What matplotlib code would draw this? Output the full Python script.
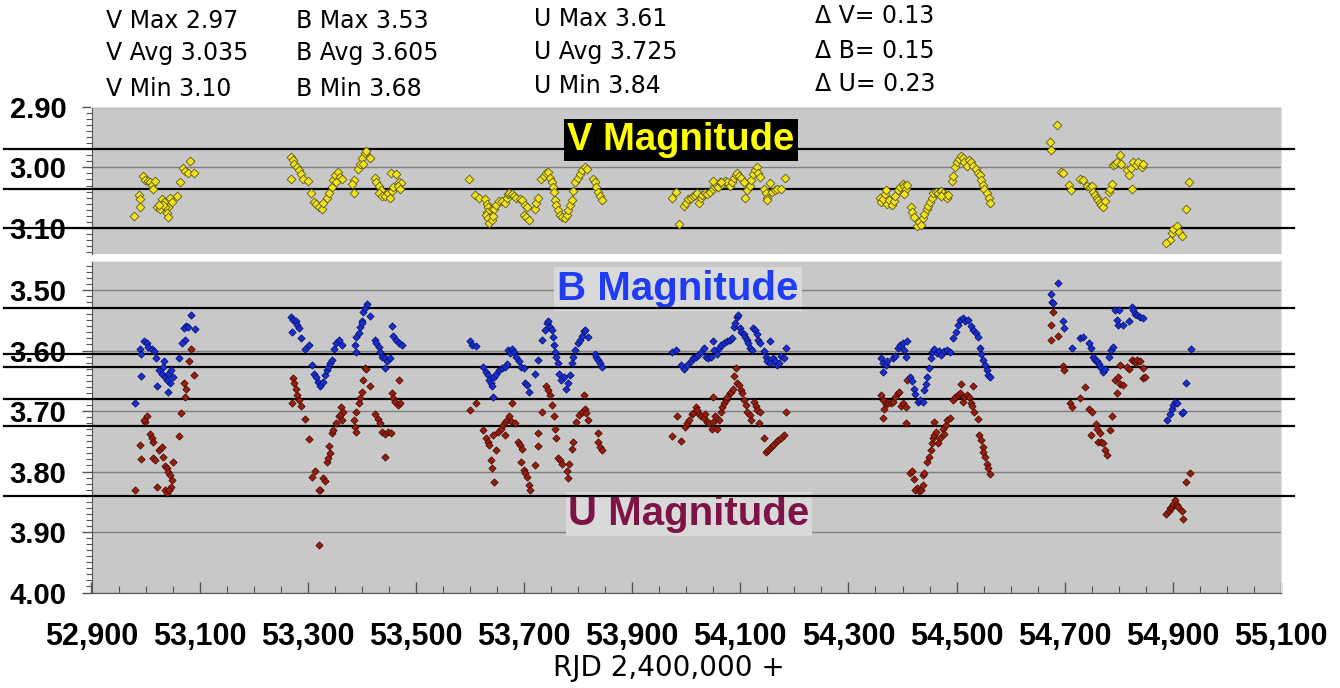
import matplotlib
matplotlib.use('Agg')
import matplotlib.pyplot as plt
from matplotlib.ticker import MultipleLocator, FuncFormatter
import matplotlib.transforms as mtransforms

# ---------------- data (RJD, magnitude) ----------------
v_points = [
    (53082, 2.989), (53070, 3.002), (53073, 3.006), (53078, 3.009), (53090, 3.009), (53064, 3.025),
    (52996, 3.014), (52999, 3.021), (53005, 3.023), (53008, 3.025), (53011, 3.029), (53014, 3.035),
    (53018, 3.023), (53059, 3.047), (52987, 3.046), (52990, 3.053), (52989, 3.066), (52979, 3.080),
    (53030, 3.053), (53035, 3.057), (53045, 3.051), (53048, 3.057), (53042, 3.065), (53036, 3.065),
    (53021, 3.066), (53027, 3.069), (53039, 3.076), (53042, 3.082), (53033, 3.062), (53024, 3.062),
    (53269, 2.983), (53272, 2.988), (53275, 2.994), (53280, 2.999), (53284, 3.005), (53288, 3.011),
    (53292, 3.020), (53300, 3.022), (53269, 3.019), (53306, 3.043), (53312, 3.057), (53316, 3.061),
    (53321, 3.065), (53326, 3.069), (53329, 3.059), (53335, 3.051), (53340, 3.043), (53344, 3.033),
    (53347, 3.021), (53350, 3.013), (53355, 3.007), (53360, 3.016), (53364, 3.020), (53353, 3.024),
    (53386, 3.021), (53382, 3.028), (53386, 3.042), (53392, 3.003), (53397, 2.994), (53401, 2.985),
    (53405, 2.977), (53407, 2.973), (53415, 2.984), (53403, 2.995), (53424, 3.018), (53427, 3.025),
    (53432, 3.031), (53435, 3.037), (53431, 3.043), (53438, 3.048), (53443, 3.047), (53448, 3.042),
    (53452, 3.050), (53455, 3.039), (53458, 3.032), (53454, 3.009), (53464, 3.011), (53469, 3.024),
    (53472, 3.026), (53466, 3.031), (53471, 3.035),
    (53598, 3.020), (53609, 3.046), (53617, 3.050), (53627, 3.053), (53631, 3.061), (53634, 3.066),
    (53639, 3.070), (53631, 3.073), (53629, 3.079), (53634, 3.084), (53635, 3.091), (53641, 3.087),
    (53643, 3.080), (53645, 3.068), (53649, 3.062), (53654, 3.055), (53659, 3.055), (53664, 3.058),
    (53668, 3.051), (53670, 3.044), (53672, 3.042), (53677, 3.044), (53682, 3.048), (53686, 3.050),
    (53693, 3.053), (53696, 3.054), (53701, 3.062), (53705, 3.065), (53699, 3.079), (53703, 3.082),
    (53709, 3.086), (53720, 3.069), (53723, 3.059), (53726, 3.051), (53731, 3.020), (53736, 3.014),
    (53740, 3.009), (53744, 3.007), (53748, 3.018), (53751, 3.024), (53754, 3.032), (53756, 3.040),
    (53757, 3.054), (53760, 3.062), (53763, 3.071), (53767, 3.079), (53771, 3.081), (53776, 3.084),
    (53779, 3.079), (53782, 3.070), (53785, 3.062), (53788, 3.054), (53791, 3.039), (53794, 3.024),
    (53799, 3.018), (53803, 3.011), (53808, 3.005), (53812, 3.000), (53816, 3.003), (53828, 3.020),
    (53831, 3.025), (53834, 3.032), (53837, 3.040), (53841, 3.047), (53844, 3.054),
    (53987, 3.093), (53973, 3.050), (53981, 3.040), (53996, 3.064), (53999, 3.058), (54004, 3.053),
    (54008, 3.050), (54012, 3.047), (54016, 3.046), (54020, 3.043), (54024, 3.058), (54027, 3.051),
    (54030, 3.046), (54035, 3.042), (54039, 3.044), (54044, 3.040), (54049, 3.036), (54051, 3.031),
    (54055, 3.029), (54059, 3.033), (54062, 3.025), (54067, 3.028), (54072, 3.022), (54076, 3.025),
    (54080, 3.031), (54084, 3.024), (54088, 3.018), (54092, 3.013), (54094, 3.009), (54098, 3.014),
    (54102, 3.018), (54106, 3.024), (54109, 3.050), (54113, 3.037), (54117, 3.031), (54119, 3.021),
    (54123, 3.011), (54127, 3.005), (54130, 3.000), (54133, 3.009), (54136, 3.016), (54049, 3.022),
    (54064, 3.024), (54143, 3.035), (54147, 3.042), (54150, 3.050), (54154, 3.026), (54158, 3.040),
    (54164, 3.037), (54168, 3.036), (54176, 3.036), (54183, 3.018), (54149, 3.054),
    (54358, 3.050), (54361, 3.057), (54364, 3.053), (54367, 3.044), (54369, 3.037), (54372, 3.061),
    (54375, 3.054), (54380, 3.062), (54385, 3.055), (54387, 3.047), (54391, 3.037), (54395, 3.033),
    (54400, 3.028), (54403, 3.031), (54406, 3.036), (54408, 3.029), (54403, 3.044), (54416, 3.065),
    (54418, 3.073), (54422, 3.082), (54426, 3.097), (54430, 3.090), (54435, 3.095), (54437, 3.084),
    (54440, 3.077), (54445, 3.069), (54448, 3.064), (54451, 3.057), (54454, 3.050), (54457, 3.043),
    (54461, 3.040), (54466, 3.042), (54471, 3.039), (54475, 3.042), (54478, 3.047), (54482, 3.051),
    (54485, 3.046), (54492, 3.022), (54494, 3.014), (54497, 2.999), (54500, 2.992), (54504, 2.987),
    (54508, 2.982), (54511, 2.984), (54514, 2.991), (54519, 2.998), (54523, 2.988), (54527, 2.992),
    (54531, 2.998), (54535, 3.003), (54539, 3.009), (54543, 3.013), (54546, 3.021), (54549, 3.029),
    (54551, 3.036), (54556, 3.042), (54560, 3.050), (54562, 3.059), (54471, 3.047),
    (54686, 2.930), (54673, 2.958), (54674, 2.971), (54694, 3.007), (54697, 3.010), (54708, 3.029),
    (54711, 3.037), (54728, 3.020), (54734, 3.021), (54742, 3.031), (54747, 3.033), (54750, 3.031),
    (54753, 3.040), (54756, 3.046), (54759, 3.050), (54762, 3.054), (54765, 3.058), (54768, 3.062),
    (54771, 3.065), (54774, 3.055), (54781, 3.040), (54784, 3.036), (54787, 3.028), (54790, 2.996),
    (54793, 2.994), (54797, 2.992), (54802, 2.980), (54805, 2.994), (54815, 3.005), (54818, 3.013),
    (54822, 3.002), (54827, 2.992), (54832, 2.996), (54836, 2.992), (54842, 2.999), (54845, 2.995),
    (54824, 3.035), (54895, 3.120), (54888, 3.124), (54898, 3.108), (54901, 3.102), (54907, 3.097),
    (54912, 3.106), (54916, 3.113), (54924, 3.068), (54930, 3.025),
]

b_points = [
    (53084, 3.542), (53075, 3.560), (53072, 3.563), (53091, 3.564), (53078, 3.561), (53073, 3.583),
    (53067, 3.587), (52998, 3.584), (53002, 3.588), (53005, 3.594), (53011, 3.598), (53016, 3.600),
    (52990, 3.598), (52992, 3.606), (53019, 3.613), (53035, 3.618), (53061, 3.613), (52991, 3.642),
    (53024, 3.633), (53030, 3.639), (53036, 3.643), (53042, 3.638), (53047, 3.632), (53050, 3.643),
    (53045, 3.654), (53022, 3.658), (53041, 3.668), (53033, 3.627), (52980, 3.686), (53039, 3.648),
    (53269, 3.544), (53273, 3.550), (53278, 3.552), (53281, 3.558), (53284, 3.563), (53270, 3.569),
    (53288, 3.579), (53294, 3.598), (53302, 3.591), (53308, 3.624), (53312, 3.638), (53315, 3.643),
    (53318, 3.652), (53323, 3.659), (53329, 3.652), (53332, 3.641), (53335, 3.633), (53338, 3.627),
    (53341, 3.621), (53345, 3.615), (53349, 3.598), (53353, 3.588), (53358, 3.583), (53363, 3.591),
    (53387, 3.591), (53389, 3.602), (53390, 3.577), (53394, 3.571), (53397, 3.561), (53400, 3.551),
    (53403, 3.536), (53406, 3.530), (53409, 3.523), (53415, 3.543), (53401, 3.555), (53424, 3.583),
    (53427, 3.588), (53431, 3.594), (53434, 3.602), (53438, 3.610), (53443, 3.613), (53446, 3.618),
    (53452, 3.613), (53443, 3.629), (53455, 3.560), (53458, 3.576), (53464, 3.583), (53469, 3.588),
    (53474, 3.591),
    (53600, 3.585), (53604, 3.591), (53611, 3.593), (53625, 3.627), (53629, 3.635), (53633, 3.641),
    (53635, 3.648), (53639, 3.653), (53641, 3.659), (53645, 3.643), (53649, 3.638), (53654, 3.632),
    (53659, 3.629), (53664, 3.627), (53668, 3.622), (53671, 3.599), (53674, 3.604), (53678, 3.598),
    (53682, 3.602), (53686, 3.610), (53691, 3.618), (53694, 3.627), (53699, 3.629), (53702, 3.654),
    (53705, 3.657), (53709, 3.668), (53720, 3.639), (53725, 3.616), (53734, 3.582), (53739, 3.566),
    (53742, 3.555), (53745, 3.552), (53748, 3.561), (53751, 3.566), (53754, 3.578), (53756, 3.591),
    (53757, 3.602), (53760, 3.610), (53763, 3.620), (53765, 3.638), (53768, 3.649), (53773, 3.643),
    (53777, 3.663), (53782, 3.654), (53785, 3.641), (53788, 3.621), (53791, 3.610), (53795, 3.599),
    (53799, 3.588), (53803, 3.583), (53807, 3.576), (53810, 3.567), (53813, 3.566), (53818, 3.577),
    (53831, 3.605), (53834, 3.610), (53837, 3.616), (53841, 3.621), (53844, 3.627), (53643, 3.676),
    (53973, 3.602), (53981, 3.599), (53990, 3.624), (53996, 3.631), (54001, 3.624), (54008, 3.618),
    (54013, 3.613), (54018, 3.610), (54022, 3.607), (54027, 3.602), (54032, 3.596), (54036, 3.610),
    (54041, 3.613), (54045, 3.610), (54049, 3.585), (54051, 3.599), (54056, 3.605), (54061, 3.595),
    (54065, 3.591), (54070, 3.588), (54075, 3.585), (54080, 3.582), (54084, 3.580), (54088, 3.561),
    (54090, 3.555), (54093, 3.544), (54096, 3.541), (54099, 3.563), (54102, 3.569), (54106, 3.573),
    (54109, 3.577), (54112, 3.583), (54115, 3.588), (54118, 3.596), (54121, 3.599), (54124, 3.562),
    (54127, 3.566), (54130, 3.573), (54133, 3.583), (54136, 3.588), (54143, 3.600), (54147, 3.610),
    (54150, 3.617), (54155, 3.621), (54160, 3.613), (54164, 3.618), (54168, 3.624), (54172, 3.621),
    (54176, 3.609), (54181, 3.613), (54184, 3.596), (54155, 3.585),
    (54361, 3.613), (54364, 3.621), (54363, 3.635), (54369, 3.624), (54372, 3.617), (54383, 3.613),
    (54387, 3.609), (54391, 3.596), (54395, 3.591), (54400, 3.587), (54403, 3.599), (54408, 3.584),
    (54406, 3.610), (54414, 3.643), (54418, 3.650), (54422, 3.663), (54424, 3.672), (54428, 3.685),
    (54432, 3.681), (54437, 3.685), (54440, 3.665), (54443, 3.655), (54446, 3.643), (54449, 3.629),
    (54453, 3.613), (54455, 3.602), (54459, 3.598), (54463, 3.604), (54467, 3.600), (54472, 3.607),
    (54477, 3.600), (54483, 3.599), (54488, 3.602), (54494, 3.580), (54498, 3.569), (54502, 3.558),
    (54506, 3.550), (54511, 3.547), (54515, 3.552), (54522, 3.550), (54527, 3.560), (54531, 3.566),
    (54535, 3.571), (54540, 3.577), (54543, 3.596), (54546, 3.605), (54549, 3.615), (54552, 3.624),
    (54556, 3.632), (54559, 3.641), (54562, 3.643),
    (54688, 3.489), (54674, 3.507), (54676, 3.519), (54678, 3.522), (54696, 3.551), (54699, 3.562),
    (54713, 3.595), (54728, 3.580), (54734, 3.577), (54745, 3.588), (54748, 3.595), (54752, 3.610),
    (54756, 3.616), (54759, 3.618), (54764, 3.622), (54768, 3.629), (54771, 3.635), (54774, 3.631),
    (54782, 3.610), (54785, 3.599), (54790, 3.594), (54793, 3.533), (54801, 3.533), (54797, 3.550),
    (54799, 3.558), (54808, 3.558), (54818, 3.552), (54824, 3.528), (54827, 3.533), (54830, 3.539),
    (54834, 3.541), (54839, 3.544), (54845, 3.547), (54890, 3.715), (54895, 3.705), (54898, 3.697),
    (54901, 3.690), (54904, 3.685), (54907, 3.687), (54916, 3.704), (54919, 3.701), (54925, 3.654),
    (54933, 3.598),
]

u_points = [
    (53084, 3.598), (53080, 3.617), (53090, 3.641), (53072, 3.654), (53075, 3.663), (53073, 3.677),
    (53066, 3.704), (53061, 3.741), (53002, 3.709), (52999, 3.718), (52998, 3.715), (53008, 3.738),
    (53011, 3.745), (53014, 3.751), (52990, 3.756), (52992, 3.780), (53013, 3.778), (53017, 3.781),
    (53024, 3.764), (53030, 3.759), (53033, 3.776), (53036, 3.791), (53039, 3.795), (53042, 3.800),
    (53045, 3.806), (53048, 3.814), (53047, 3.825), (53051, 3.784), (52980, 3.830), (53022, 3.826),
    (53036, 3.831), (53039, 3.835), (53043, 3.831),
    (53273, 3.646), (53275, 3.654), (53278, 3.663), (53281, 3.674), (53283, 3.682), (53271, 3.687),
    (53288, 3.692), (53294, 3.714), (53302, 3.747), (53308, 3.809), (53313, 3.799), (53329, 3.811),
    (53331, 3.815), (53323, 3.830), (53320, 3.830), (53335, 3.785), (53338, 3.778), (53341, 3.770),
    (53339, 3.758), (53345, 3.736), (53347, 3.731), (53352, 3.719), (53357, 3.709), (53362, 3.693),
    (53366, 3.701), (53360, 3.707), (53363, 3.715), (53386, 3.715), (53387, 3.726), (53389, 3.734),
    (53390, 3.701), (53394, 3.687), (53397, 3.679), (53401, 3.668), (53403, 3.648), (53405, 3.629),
    (53407, 3.631), (53415, 3.659), (53424, 3.705), (53429, 3.714), (53434, 3.720), (53437, 3.734),
    (53443, 3.738), (53449, 3.734), (53454, 3.736), (53443, 3.776), (53455, 3.671), (53458, 3.679),
    (53461, 3.685), (53466, 3.690), (53471, 3.687), (53468, 3.648), (53321, 3.922),
    (53600, 3.698), (53611, 3.687), (53625, 3.731), (53629, 3.745), (53633, 3.751), (53635, 3.756),
    (53639, 3.781), (53640, 3.795), (53645, 3.818), (53649, 3.764), (53643, 3.740), (53652, 3.734),
    (53657, 3.729), (53662, 3.723), (53665, 3.718), (53668, 3.715), (53672, 3.708), (53676, 3.716),
    (53678, 3.687), (53683, 3.720), (53664, 3.740), (53689, 3.751), (53692, 3.756), (53696, 3.763),
    (53694, 3.784), (53699, 3.798), (53702, 3.803), (53705, 3.809), (53709, 3.822), (53711, 3.831),
    (53720, 3.789), (53725, 3.758), (53726, 3.737), (53734, 3.701), (53740, 3.659), (53745, 3.665),
    (53748, 3.674), (53752, 3.690), (53756, 3.708), (53758, 3.729), (53760, 3.745), (53763, 3.778),
    (53767, 3.781), (53770, 3.787), (53779, 3.799), (53781, 3.811), (53783, 3.787), (53788, 3.762),
    (53791, 3.751), (53797, 3.718), (53802, 3.707), (53807, 3.701), (53812, 3.696), (53814, 3.704),
    (53819, 3.715), (53810, 3.674), (53836, 3.737), (53837, 3.751), (53841, 3.759), (53844, 3.764),
    (53973, 3.742), (53990, 3.749), (53983, 3.709), (53998, 3.726), (54001, 3.720), (54006, 3.715),
    (54010, 3.705), (54013, 3.703), (54018, 3.693), (54020, 3.698), (54024, 3.705), (54028, 3.708),
    (54032, 3.712), (54035, 3.705), (54038, 3.718), (54043, 3.720), (54047, 3.729), (54050, 3.718),
    (54053, 3.708), (54057, 3.729), (54061, 3.715), (54064, 3.701), (54067, 3.693), (54070, 3.687),
    (54073, 3.682), (54076, 3.676), (54080, 3.671), (54082, 3.668), (54086, 3.663), (54088, 3.642),
    (54092, 3.629), (54094, 3.654), (54098, 3.657), (54101, 3.665), (54104, 3.670), (54107, 3.682),
    (54110, 3.690), (54113, 3.701), (54117, 3.707), (54119, 3.715), (54050, 3.676), (54125, 3.685),
    (54129, 3.692), (54131, 3.698), (54136, 3.701), (54135, 3.720), (54144, 3.744), (54147, 3.767),
    (54152, 3.764), (54156, 3.760), (54161, 3.756), (54166, 3.751), (54170, 3.748), (54175, 3.745),
    (54180, 3.740), (54184, 3.701),
    (54361, 3.674), (54364, 3.682), (54366, 3.697), (54363, 3.712), (54369, 3.688), (54374, 3.686),
    (54379, 3.687), (54383, 3.685), (54387, 3.677), (54391, 3.670), (54393, 3.668), (54397, 3.692),
    (54401, 3.687), (54406, 3.693), (54408, 3.648), (54406, 3.719), (54414, 3.803), (54418, 3.799),
    (54422, 3.813), (54426, 3.828), (54423, 3.831), (54430, 3.832), (54435, 3.831), (54438, 3.822),
    (54437, 3.806), (54440, 3.803), (54446, 3.785), (54449, 3.776), (54453, 3.764), (54455, 3.753),
    (54457, 3.745), (54459, 3.740), (54461, 3.734), (54465, 3.753), (54469, 3.745), (54474, 3.729),
    (54477, 3.738), (54480, 3.723), (54483, 3.715), (54488, 3.712), (54459, 3.718), (54494, 3.682),
    (54497, 3.677), (54502, 3.674), (54506, 3.671), (54508, 3.655), (54511, 3.685), (54514, 3.676),
    (54519, 3.674), (54523, 3.677), (54527, 3.687), (54529, 3.692), (54533, 3.701), (54531, 3.659),
    (54539, 3.714), (54541, 3.740), (54545, 3.748), (54548, 3.759), (54549, 3.767), (54552, 3.776),
    (54556, 3.787), (54559, 3.795), (54562, 3.804),
    (54678, 3.537), (54674, 3.558), (54674, 3.582), (54688, 3.576), (54696, 3.626), (54699, 3.633),
    (54737, 3.661), (54729, 3.679), (54710, 3.686), (54713, 3.693), (54745, 3.697), (54750, 3.701),
    (54758, 3.722), (54759, 3.729), (54765, 3.737), (54748, 3.740), (54762, 3.751), (54768, 3.751),
    (54771, 3.753), (54774, 3.764), (54778, 3.773), (54784, 3.731), (54787, 3.708), (54793, 3.649),
    (54799, 3.643), (54797, 3.670), (54802, 3.655), (54808, 3.657), (54803, 3.624), (54815, 3.627),
    (54819, 3.631), (54824, 3.615), (54828, 3.617), (54832, 3.621), (54834, 3.615), (54839, 3.617),
    (54845, 3.629), (54844, 3.646), (54848, 3.643), (54888, 3.870), (54892, 3.866), (54895, 3.861),
    (54898, 3.858), (54901, 3.853), (54904, 3.847), (54907, 3.855), (54910, 3.858), (54916, 3.866),
    (54918, 3.879), (54925, 3.818), (54932, 3.802),
]

v_levels = [2.97, 3.035, 3.10]
bu_levels = [3.53, 3.605, 3.628, 3.68, 3.725, 3.84]

header_v = ["V Max 2.97", "V Avg 3.035", "V Min 3.10"]
header_b = ["B Max 3.53", "B Avg 3.605", "B Min 3.68"]
header_u = ["U Max 3.61", "U Avg 3.725", "U Min 3.84"]
header_d = ["\u0394 V= 0.13", "\u0394 B= 0.15", "\u0394 U= 0.23"]

x_range = (52900, 55100)

# ---------------- figure ----------------
W, H = 1340, 688
fig = plt.figure(figsize=(W / 100, H / 100), dpi=100)
fig.patch.set_facecolor('white')


def fx(px):
    return px / W


def fy(py):
    return 1 - py / H


L, R = 91.5, 1281
ax_v = fig.add_axes([fx(L), fy(254), fx(R) - fx(L), fy(106.5) - fy(254)])
ax_b = fig.add_axes([fx(L), fy(592.5), fx(R) - fx(L), fy(261) - fy(592.5)])

TICKFONT = 'Liberation Sans'
panel_gray = '#c8c8c8'

for ax in (ax_v, ax_b):
    ax.set_facecolor(panel_gray)
    ax.set_xlim(*x_range)
    ax.set_axisbelow(True)
    ax.yaxis.set_major_locator(MultipleLocator(0.1))
    ax.yaxis.set_minor_locator(MultipleLocator(0.01))
    ax.yaxis.set_major_formatter(FuncFormatter(lambda v, p: f"{v:.2f}"))
    ax.yaxis.grid(True, which='major', color='#808080', lw=1.0)
    ax.tick_params(axis='y', which='major', direction='out', length=7, width=1,
                   color='#555555', labelsize=21, pad=11)
    ax.tick_params(axis='y', which='minor', direction='out', length=4, width=0.8,
                   color='#555555')
    ax.spines['left'].set_color('#555555')
    ax.spines['right'].set_color('#e2e2e2')
    ax.spines['top'].set_color('#e2e2e2')

ax_v.set_ylim(3.1427, 2.90)
ax_b.set_ylim(4.00, 3.452)

ax_v.tick_params(axis='x', which='both', bottom=False, labelbottom=False)
ax_v.spines['bottom'].set_visible(False)

ax_b.xaxis.set_major_locator(MultipleLocator(200, offset=100))
ax_b.xaxis.set_minor_locator(MultipleLocator(50))
ax_b.xaxis.set_major_formatter(FuncFormatter(lambda v, p: f"{v:,.0f}"))
ax_b.tick_params(axis='x', which='major', direction='in', length=8, width=1,
                 color='#555555', labelsize=22, pad=21)
ax_b.tick_params(axis='x', which='minor', direction='in', length=5, width=0.8,
                 color='#555555')
ax_b.spines['bottom'].set_color('#555555')
for lab in ax_b.get_xticklabels() + ax_b.get_yticklabels() + ax_v.get_yticklabels():
    lab.set_fontfamily(TICKFONT)
    lab.set_fontweight('bold')

# reference level lines (extend beyond the plot area)
for ax, levels in ((ax_v, v_levels), (ax_b, bu_levels)):
    tr = mtransforms.blended_transform_factory(fig.transFigure, ax.transData)
    for lv in levels:
        ax.plot([fx(4), fx(1294)], [lv, lv], transform=tr, color='black',
                lw=1.6, clip_on=False, zorder=3)

# data
vx, vy = zip(*v_points)
bx, by = zip(*b_points)
ux, uy = zip(*u_points)
ax_v.scatter(vx, vy, marker='D', s=20, facecolor='#f2e21a', edgecolor='#5c5a1e',
             linewidth=0.6, zorder=4)
ax_b.scatter(ux, uy, marker='D', s=14, facecolor='#9a1c0c', edgecolor='#3e0a04',
             linewidth=0.5, zorder=4)
ax_b.scatter(bx, by, marker='D', s=14, facecolor='#1630d0', edgecolor='#0a0a66',
             linewidth=0.5, zorder=4)

# panel titles
ax_v.text(fx(681), fy(140), "V Magnitude", transform=fig.transFigure, ha='center',
          va='center', fontsize=27.5, fontweight='bold', family=TICKFONT, color='#ffff00',
          zorder=6, bbox=dict(facecolor='black', edgecolor='none', pad=2.5))
ax_b.text(fx(678), fy(289), "B Magnitude", transform=fig.transFigure, ha='center',
          va='center', fontsize=29, fontweight='bold', family=TICKFONT, color='#1e3cf5',
          zorder=2.5, bbox=dict(facecolor='#d9d9d9', edgecolor='none', pad=2))
ax_b.text(fx(689), fy(514), "U Magnitude", transform=fig.transFigure, ha='center',
          va='center', fontsize=29, fontweight='bold', family=TICKFONT, color='#7e1446',
          zorder=2.5, bbox=dict(facecolor='#d9d9d9', edgecolor='none', pad=2))

# header statistics
HF = 'DejaVu Sans'
rows_y = [21, 53, 89]
for i, t in enumerate(header_v):
    fig.text(fx(106), fy(rows_y[i]), t, ha='left', va='center', fontsize=17, family=HF)
for i, t in enumerate(header_b):
    fig.text(fx(296), fy(rows_y[i]), t, ha='left', va='center', fontsize=17, family=HF)
for i, (t, yy) in enumerate(zip(header_u, [19.5, 52, 86])):
    fig.text(fx(534), fy(yy), t, ha='left', va='center', fontsize=17, family=HF)
for i, (t, yy) in enumerate(zip(header_d, [16, 51, 84])):
    fig.text(fx(815), fy(yy), t, ha='left', va='center', fontsize=17, family=HF)

fig.text(fx(669), fy(668), "RJD 2,400,000 +", ha='center', va='center',
         fontsize=20, family=HF)

fig.savefig('out.png', dpi=100)
